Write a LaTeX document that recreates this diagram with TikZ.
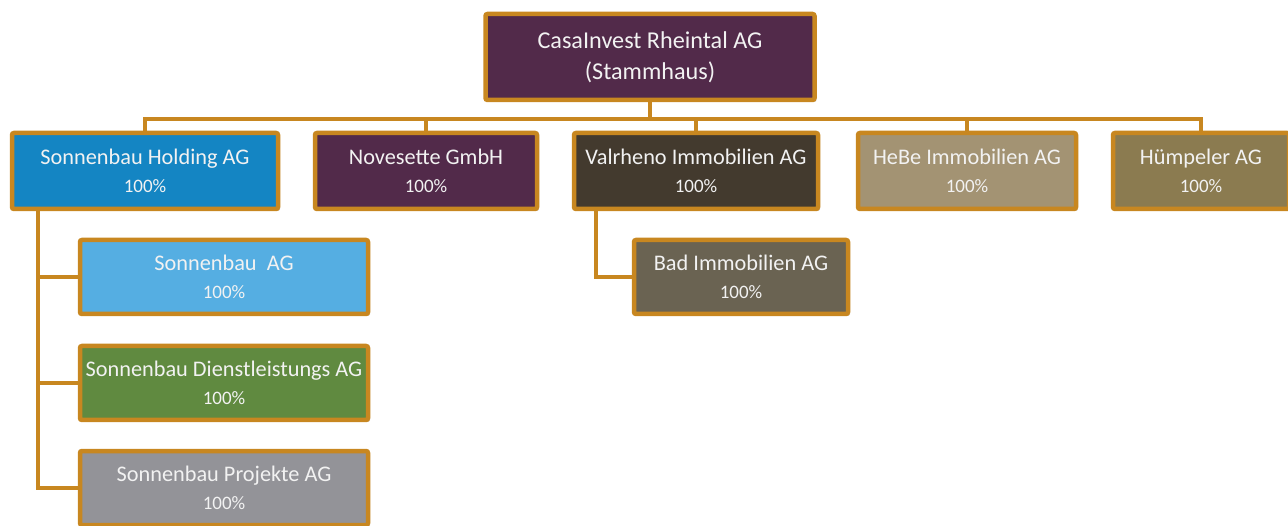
\documentclass[tikz,border=0pt]{standalone}
\usepackage{fontspec}
\setmainfont{Carlito}
\usepackage{xcolor}
\usepackage{tikz}
\usetikzlibrary{positioning,shadows}

\definecolor{rahmen}{RGB}{200,135,32}
\definecolor{stamm}{RGB}{82,42,74}
\definecolor{holdblau}{RGB}{20,133,195}
\definecolor{valbraun}{RGB}{67,58,46}
\definecolor{hebebeige}{RGB}{163,147,115}
\definecolor{huemoliv}{RGB}{139,123,80}
\definecolor{hellblau}{RGB}{85,174,226}
\definecolor{gruen}{RGB}{96,138,64}
\definecolor{grau}{RGB}{147,147,152}
\definecolor{badbraun}{RGB}{106,99,82}

\newcommand{\firma}[2]{#1\\{\fontsize{19}{28}\selectfont #2}}

\begin{document}
\begin{tikzpicture}[x=1pt,y=-1pt]

  \tikzstyle{firm}=[rectangle,draw=rahmen,line width=4.5pt,rounded corners=2pt,
    text=white!95!black,align=center,font=\fontsize{22.3}{28}\selectfont,
    drop shadow={shadow xshift=2pt,shadow yshift=-2pt,opacity=0.25}]
  \tikzstyle{link}=[draw=rahmen,line width=3.5pt]

  \useasboundingbox (0,0) rectangle (1288,526);

  % Stammhaus
  \node[firm,fill=stamm,minimum width=329pt,minimum height=86pt,
    font=\fontsize{24.2}{31}\selectfont] (top) at (650,57)
    {CasaInvest Rheintal AG\\(Stammhaus)};

  % erste Ebene
  \node[firm,fill=holdblau,minimum width=266pt,minimum height=76pt] (holding) at (145,171)
    {\firma{Sonnenbau Holding AG}{100\%}};
  \node[firm,fill=stamm,minimum width=222pt,minimum height=76pt] (novesette) at (426,171)
    {\firma{Novesette GmbH}{100\%}};
  \node[firm,fill=valbraun,minimum width=244pt,minimum height=76pt] (valrheno) at (696,171)
    {\firma{Valrheno Immobilien AG}{100\%}};
  \node[firm,fill=hebebeige,minimum width=218pt,minimum height=76pt] (hebe) at (967,171)
    {\firma{HeBe Immobilien AG}{100\%}};
  \node[firm,fill=huemoliv,minimum width=176pt,minimum height=76pt] (huempeler) at (1201,171)
    {\firma{Hümpeler AG}{100\%}};

  % Tochter der Holding
  \node[firm,fill=hellblau,minimum width=288pt,minimum height=74pt] (sbag) at (224,277)
    {\firma{Sonnenbau\ \ AG}{100\%}};
  \node[firm,fill=gruen,minimum width=288pt,minimum height=74pt] (sbdl) at (224,383)
    {\firma{Sonnenbau Dienstleistungs AG}{100\%}};
  \node[firm,fill=grau,minimum width=288pt,minimum height=74pt] (sbpr) at (224,488)
    {\firma{Sonnenbau Projekte AG}{100\%}};

  % Tochter von Valrheno
  \node[firm,fill=badbraun,minimum width=214pt,minimum height=74pt] (bad) at (741,277)
    {\firma{Bad Immobilien AG}{100\%}};

  \foreach \c in {holding,novesette,valrheno,hebe,huempeler}
    \draw[link] (top.south) -- ++(0,17) -| (\c.north);

  \foreach \c in {sbag,sbdl,sbpr}
    \draw[link] ([xshift=28pt]holding.south west) |- (\c.west);

  \draw[link] ([xshift=24pt]valrheno.south west) |- (bad.west);

\end{tikzpicture}
\end{document}
